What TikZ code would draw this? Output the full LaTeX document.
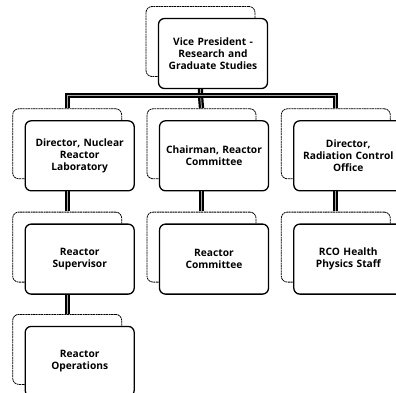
\documentclass[tikz,border=0pt]{standalone}
\usepackage{fontspec}
\setmainfont{Open Sans}
\usetikzlibrary{positioning,shadows}

\begin{document}
\begin{tikzpicture}[x=1pt,y=-1pt]
    \useasboundingbox (0,0) rectangle (396,392);
    \begin{scope}[node distance=31pt,
        mybox/.style={rectangle, rounded corners=6pt, draw, line width=1.3pt, fill=white,
            minimum width=109pt, minimum height=70pt, text width=104pt, inner xsep=2pt, align=center,
            font=\bfseries\fontsize{10.2}{12}\selectfont,
            copy shadow={shadow xshift=-12.5pt, shadow yshift=12pt, draw=black, line width=0.8pt, dash pattern=on 2pt off 0.6pt, fill=white}},
        mylink/.style={draw, line width=2.2pt, double=gray!70, double distance=0.9pt}]
    \node [mybox] (vp) at (213,53.5) {Vice President -\\Research and\\Graduate Studies};
    \node [mybox, below=of vp, xshift=1pt] (crc) {Chairman, Reactor\\Committee};
    \node [mybox, left=24pt of crc] (ndl) {Director, Nuclear\\Reactor\\Laboratory};
    \node [mybox, right=24pt of crc] (rco) {Director,\\Radiation Control\\Office};
    % second level
    \node [mybox, below=32pt of ndl] (rs) {Reactor\\Supervisor};
    \node [mybox, below=32pt of crc] (rc) {Reactor\\Committee};
    \node [mybox, below=32pt of rco] (rhp) {RCO Health\\Physics Staff};
    \node [mybox, below=31pt of rs] (ro) {Reactor\\Operations};
    % bus
    \coordinate (bus) at ([xshift=-12.5pt, yshift=-6.5pt] vp.south);
    \draw [mylink] ([xshift=-12.5pt] vp.south) -- (bus) -- ([xshift=-12.5pt, yshift=12pt] crc.north);
    \draw [mylink] ([xshift=-12.5pt, yshift=12pt] ndl.north) |- (bus) -| ([xshift=-12.5pt, yshift=12pt] rco.north);
    % columns
    \draw [mylink] ([xshift=-12.5pt] ndl.south) -- ([xshift=-12.5pt, yshift=12pt] rs.north);
    \draw [mylink] ([xshift=-12.5pt] rs.south) -- ([xshift=-12.5pt, yshift=12pt] ro.north);
    \draw [mylink] ([xshift=-12.5pt] crc.south) -- ([xshift=-12.5pt, yshift=12pt] rc.north);
    \draw [mylink] ([xshift=-12.5pt] rco.south) -- ([xshift=-12.5pt, yshift=12pt] rhp.north);
    \end{scope}
\end{tikzpicture}
\end{document}
